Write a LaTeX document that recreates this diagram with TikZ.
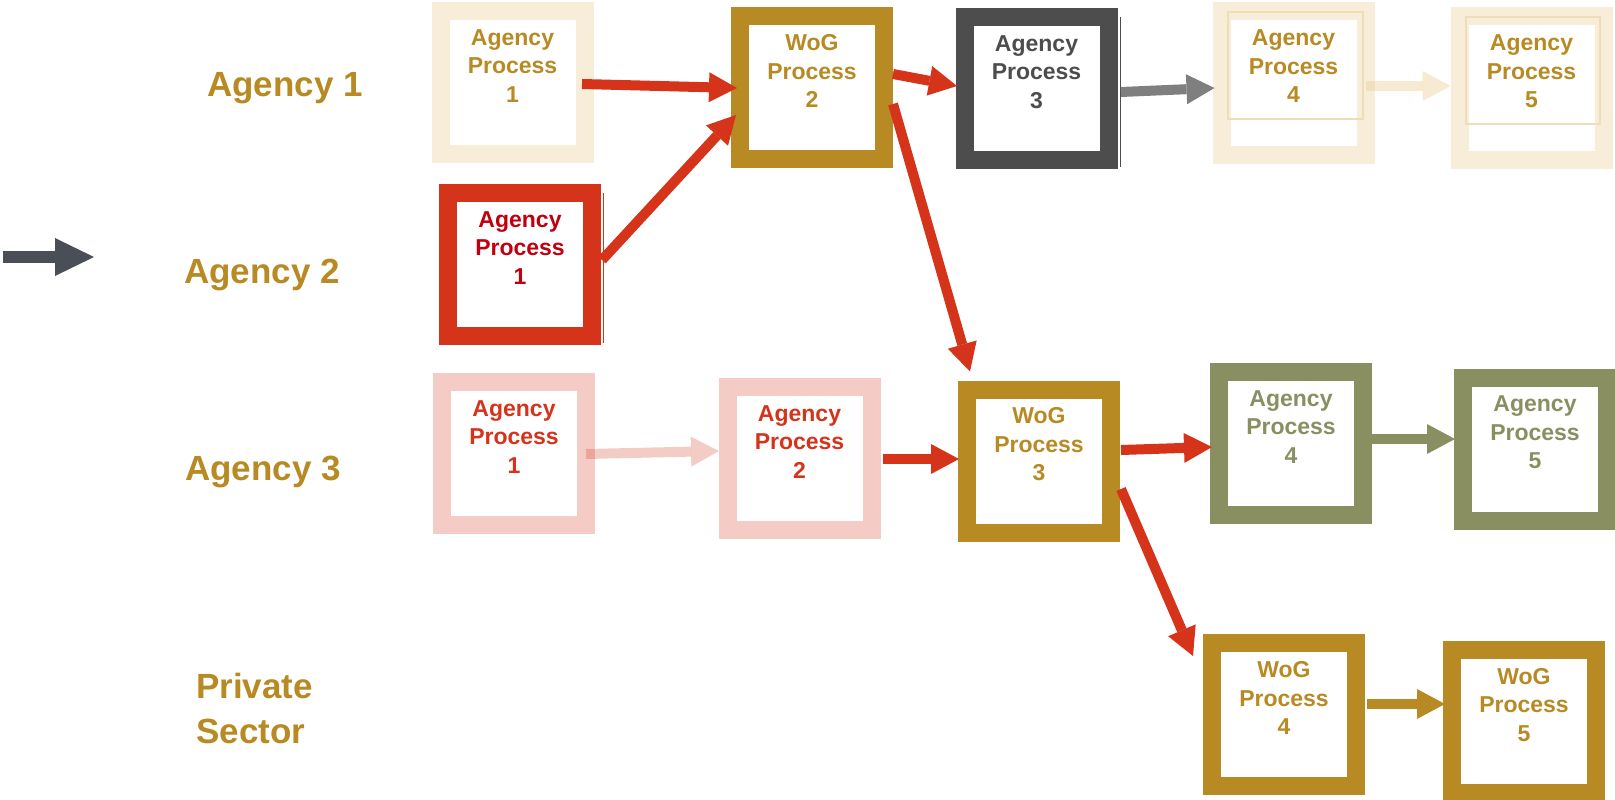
\documentclass[tikz,border=0pt]{standalone}
\usepackage{fontspec}
\setmainfont{Liberation Sans}
\usetikzlibrary{arrows.meta,calc}

\definecolor{gold}{HTML}{B88A24}
\definecolor{pale}{HTML}{F7EDD9}
\definecolor{palefaint}{HTML}{EFDDB8}
\definecolor{palearrow}{HTML}{EDD5A7}
\definecolor{dgray}{HTML}{4D4D4D}
\definecolor{flowred}{HTML}{D5331A}
\definecolor{darkred}{HTML}{C0000F}
\definecolor{pink}{HTML}{F5CCC5}
\definecolor{olive}{HTML}{8A8F62}
\definecolor{arrowgray}{HTML}{7F7F7F}
\definecolor{slate}{HTML}{4A4E57}

\begin{document}
\begin{tikzpicture}[x=1pt,y=-1pt,
  procbox/.style={draw=#1, line width=18pt, fill=white,
    minimum width=144pt, minimum height=143pt, inner sep=0pt},
  proctext/.style={text=#1, font=\fontsize{23}{28.5}\selectfont\bfseries,
    align=center, inner sep=0pt},
  rowlabel/.style={text=gold, font=\fontsize{35}{44.5}\selectfont\bfseries,
    inner sep=0pt},
  flow/.style={draw=#1, line width=10pt,
    -{Triangle[length=28pt,width=30pt,line width=0pt]}},
  faintline/.style={draw=palefaint, line width=1.5pt},
  edgeline/.style={draw=#1, line width=1pt},
]
\useasboundingbox (0,0) rectangle (1615,800);

% row labels
\node[rowlabel, anchor=base] (lab1) at (285,96) {Agency 1};
\node[rowlabel, anchor=base] (lab2) at (262,283) {Agency 2};
\node[rowlabel, anchor=base] (lab3) at (263,480) {Agency 3};
\node[rowlabel, anchor=base west, align=left] (lab4) at (196,743) {Private\\Sector};

% entry arrow
\coordinate (inL) at (3,257);
\coordinate (inR) at (94,257);
\draw[draw=slate, line width=12.5pt,
  -{Triangle[length=39pt,width=38pt,line width=0pt]}] (inL) -- (inR);

% Agency 1 row
\node[procbox=pale] (a1p1) at (512.5,82.5) {};
\node[proctext=gold] (a1p1t) at ($(a1p1.center)+(0,-16.5)$) {Agency\\Process\\1};
\node[procbox=gold] (wog2) at (812,87.5) {};
\node[proctext=gold] (wog2t) at ($(wog2.center)+(0,-16.5)$) {WoG\\Process\\2};
\node[procbox=dgray] (a1p3) at (1036.5,88.5) {};
\node[proctext=dgray] (a1p3t) at ($(a1p3.center)+(0,-16.5)$) {Agency\\Process\\3};
\draw[edgeline=dgray] ($(a1p3.north east)+(2.5,9)$) -- ($(a1p3.south east)+(2.5,-2)$);
\node[procbox=pale] (a1p4) at (1293.5,83) {};
\draw[faintline] ($(a1p4.center)+(-65.5,-71)$) rectangle ($(a1p4.center)+(69.5,36)$);
\node[proctext=gold] (a1p4t) at ($(a1p4.center)+(0,-16.5)$) {Agency\\Process\\4};
\node[procbox=pale] (a1p5) at (1531.5,88) {};
\draw[faintline] ($(a1p5.center)+(-65.5,-71)$) rectangle ($(a1p5.center)+(68.5,36)$);
\node[proctext=gold] (a1p5t) at ($(a1p5.center)+(0,-16.5)$) {Agency\\Process\\5};

% Agency 2 row
\node[procbox=flowred] (a2p1) at (520,264.5) {};
\node[proctext=darkred] (a2p1t) at ($(a2p1.center)+(0,-16.5)$) {Agency\\Process\\1};
\draw[edgeline=flowred] ($(a2p1.north east)+(2,9)$) -- ($(a2p1.south east)+(2,-2)$);

% Agency 3 row
\node[procbox=pink] (a3p1) at (514,453.5) {};
\node[proctext=flowred] (a3p1t) at ($(a3p1.center)+(0,-16.5)$) {Agency\\Process\\1};
\node[procbox=pink] (a3p2) at (799.5,458.5) {};
\node[proctext=flowred] (a3p2t) at ($(a3p2.center)+(0,-16.5)$) {Agency\\Process\\2};
\node[procbox=gold] (wog3) at (1039,461) {};
\node[proctext=gold] (wog3t) at ($(wog3.center)+(0,-16.5)$) {WoG\\Process\\3};
\node[procbox=olive] (a3p4) at (1291,443.5) {};
\node[proctext=olive] (a3p4t) at ($(a3p4.center)+(0,-16.5)$) {Agency\\Process\\4};
\node[procbox=olive] (a3p5) at (1535,449) {};
\node[proctext=olive] (a3p5t) at ($(a3p5.center)+(0,-16.5)$) {Agency\\Process\\5};

% Private sector row
\node[procbox=gold] (wog4) at (1284,714.5) {};
\node[proctext=gold] (wog4t) at ($(wog4.center)+(0,-16.5)$) {WoG\\Process\\4};
\node[procbox=gold] (wog5) at (1524,721.5) {};
\node[proctext=gold] (wog5t) at ($(wog5.center)+(0,-16.5)$) {WoG\\Process\\5};

% connectors
\draw[flow=flowred] ($(a1p1.east)+(-11.5,1.5)$) -- ($(wog2.west)+(6,0.5)$);
\draw[flow=flowred] ($(a2p1.east)+(1,-4.5)$) -- ($(wog2.west)+(5,27.5)$);
\draw[flow=flowred] ($(wog2.east)+(0,-13.5)$) -- ($(a1p3.west)+(1.5,-2.5)$);
\draw[flow=flowred] ($(wog2.east)+(0,16.5)$) -- ($(wog3.north)+(-69,-9)$);
\draw[flow=arrowgray] ($(a1p3.east)+(3.5,3.5)$) -- ($(a1p4.west)+(2,5)$);
\draw[flow=palearrow, opacity=0.5] ($(a1p4.east)+(-9,3)$) -- ($(a1p5.west)+(0,-2)$);
\draw[flow=flowred, opacity=0.25] ($(a3p1.east)+(-9,0.5)$) -- ($(a3p2.west)+(0.5,-7.5)$);
\draw[flow=flowred] ($(a3p2.east)+(2.5,0.5)$) -- ($(wog3.west)+(1,-2)$);
\draw[flow=flowred] ($(wog3.east)+(1,-11)$) -- ($(a3p4.west)+(2,3.5)$);
\draw[flow=olive] ($(a3p4.east)+(0,-4.5)$) -- ($(a3p5.west)+(1,-10)$);
\draw[flow=flowred] ($(wog3.east)+(1,28)$) -- ($(wog4.north west)+(-10,22)$);
\draw[flow=gold] ($(wog4.east)+(2,-10.5)$) -- ($(wog5.west)+(2,-17.5)$);
\end{tikzpicture}
\end{document}
